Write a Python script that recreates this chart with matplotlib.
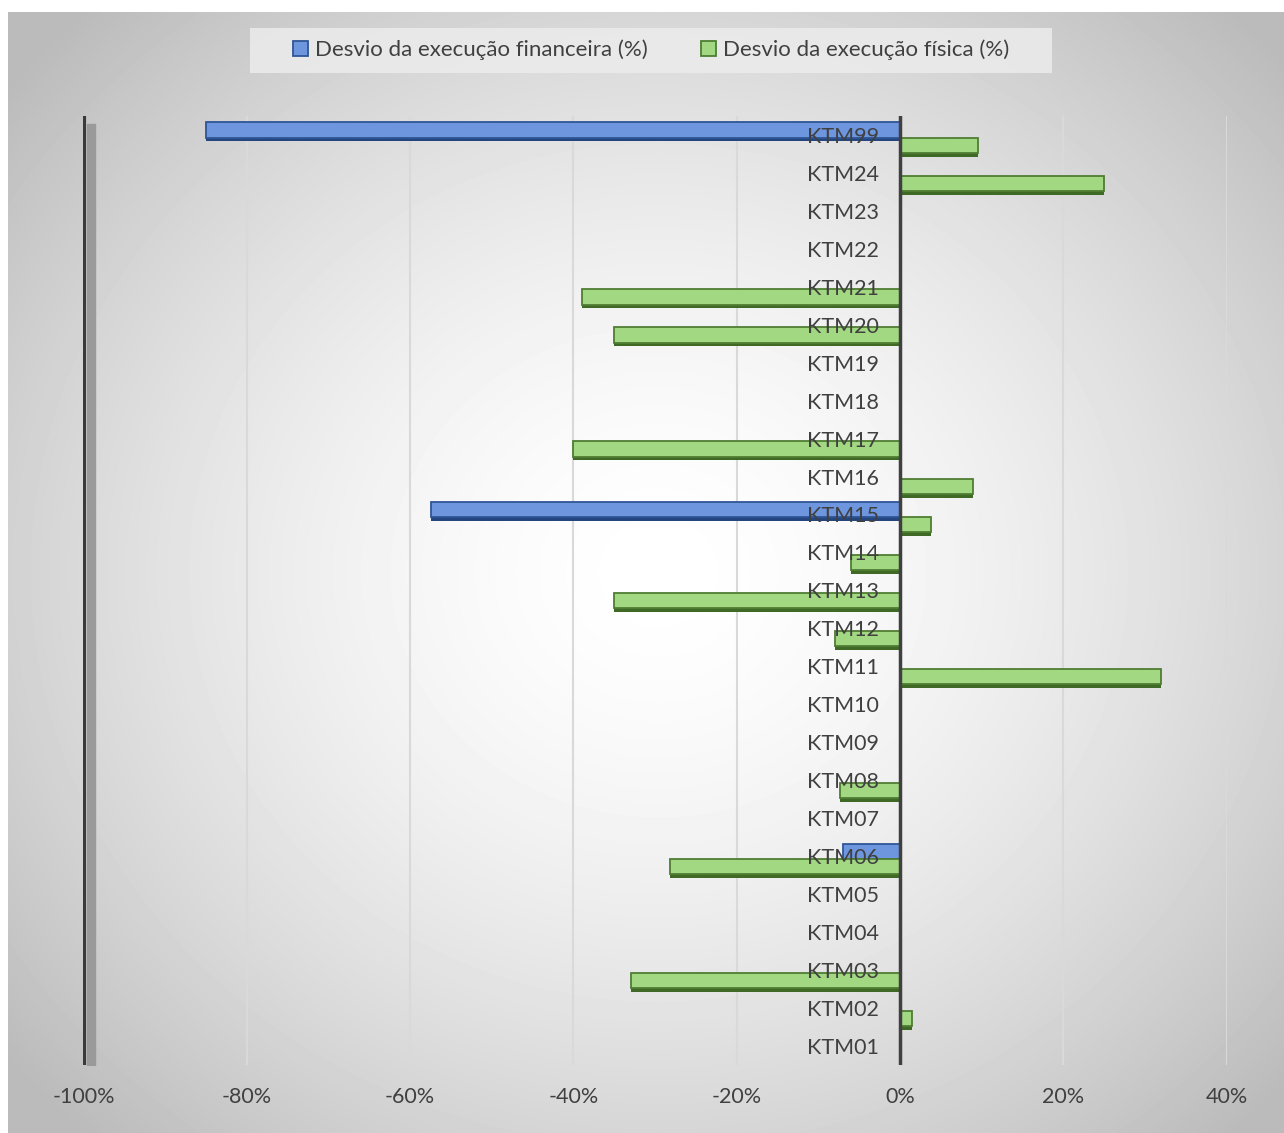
import numpy as np
import matplotlib
matplotlib.use("Agg")
from matplotlib import pyplot as plt
from matplotlib.patches import Patch, Rectangle

plt.rcParams['font.family'] = ['Lato', 'DejaVu Sans']

# deviations per work package (%), KTM01 .. KTM24 then KTM99
categories = ["KTM01", "KTM02", "KTM03", "KTM04", "KTM05", "KTM06", "KTM07", "KTM08",
              "KTM09", "KTM10", "KTM11", "KTM12", "KTM13", "KTM14", "KTM15", "KTM16",
              "KTM17", "KTM18", "KTM19", "KTM20", "KTM21", "KTM22", "KTM23", "KTM24",
              "KTM99"]
desvio_financeiro = [0, 0, 0, 0, 0, -7, 0, 0,
                     0, 0, 0, 0, 0, 0, -57.5, 0,
                     0, 0, 0, 0, 0, 0, 0, 0,
                     -85]
desvio_fisico = [0, 1.5, -33, 0, 0, -28.2, 0, -7.3,
                 0, 0, 32, -8, -35, -6, 3.8, 9,
                 -40, 0, 0, -35, -39, 0, 0, 25,
                 9.5]
xticks = [-100, -80, -60, -40, -20, 0, 20, 40]
legend_labels = ["Desvio da execução financeira (%)", "Desvio da execução física (%)"]

W, H = 1284, 1133
fig = plt.figure(figsize=(W / 100, H / 100), dpi=100, facecolor='white')

# radial grey background of the chart area
bg = fig.add_axes([8 / W, 0, 1 - 8 / W, 1 - 12 / H])
bg.set_axis_off()
yy, xx = np.mgrid[0:H - 12, 0:W - 8]
cx, cy = 650.0, 560.0
r = np.sqrt(((xx - cx) / 700.0) ** 2 + ((yy - cy) / 640.0) ** 2)
shade = 1 - 0.2 * np.clip(r, 0, 1.2) ** 1.6
bg.imshow(shade, cmap='gray', vmin=0, vmax=1, aspect='auto', interpolation='bilinear')

# legend box
fig.patches.append(Rectangle((250 / W, 1 - 73 / H), 802 / W, 45 / H,
                             transform=fig.transFigure, facecolor='#ececec',
                             edgecolor='none', alpha=0.85, zorder=1))

x_left, x_right = 83.5, 1226.6
ax = fig.add_axes([x_left / W, 1 - 1065 / H, (x_right - x_left) / W, 949 / H])
ax.set_facecolor('none')
ax.set_xlim(-100, 40)
ax.set_ylim(-0.5, len(categories) - 0.5)

pos = np.arange(len(categories))
h = 0.4
blue_face, blue_dark = '#6d96de', '#2f5597'
green_face, green_dark = '#a2d881', '#4f7d33'

# darker underside gives the bars some depth
ax.barh(pos + 0.13 - 0.06, desvio_financeiro, height=h + 0.08, color='#24467f', zorder=3)
ax.barh(pos + 0.13, desvio_financeiro, height=h, color=blue_face,
        edgecolor=blue_dark, linewidth=1.3, zorder=4)
ax.barh(pos - 0.27 - 0.06, desvio_fisico, height=h + 0.08, color='#3f6a26', zorder=3)
ax.barh(pos - 0.27, desvio_fisico, height=h, color=green_face,
        edgecolor=green_dark, linewidth=1.3, zorder=4)

ax.axvline(0, color='#404040', lw=2.5, zorder=5)
ax.axvline(-100, color='#3a3a3a', lw=3, zorder=5)
ax.fill_betweenx([-0.5, 24.3], -99.6, -98.6, color='#9a9a9a', zorder=4)

for p, name in zip(pos, categories):
    ax.text(-2.6, p - 0.05, name, ha='right', va='center', fontsize=15.5,
            color='#404040', zorder=6)

ax.set_xticks(xticks)
ax.set_xticklabels([f"{t}%" for t in xticks])
ax.set_yticks([])
ax.tick_params(axis='x', length=0, pad=16, labelsize=15.5, labelcolor='#404040')
ax.grid(axis='x', color='#d9d9d9', lw=1.5, zorder=0)
ax.set_axisbelow(True)
for s in ax.spines.values():
    s.set_visible(False)

handles = [Patch(facecolor=blue_face, edgecolor=blue_dark, lw=1.3),
           Patch(facecolor=green_face, edgecolor=green_dark, lw=1.3)]
leg = fig.legend(handles, legend_labels, loc='center', bbox_to_anchor=(651 / W, 1 - 50 / H),
                 ncol=2, frameon=False, fontsize=16, handlelength=0.7, handleheight=0.7,
                 handletextpad=0.3, columnspacing=2.4, labelcolor='#404040')
leg.set_zorder(2)

fig.savefig("out.png", dpi=100, facecolor=fig.get_facecolor())
